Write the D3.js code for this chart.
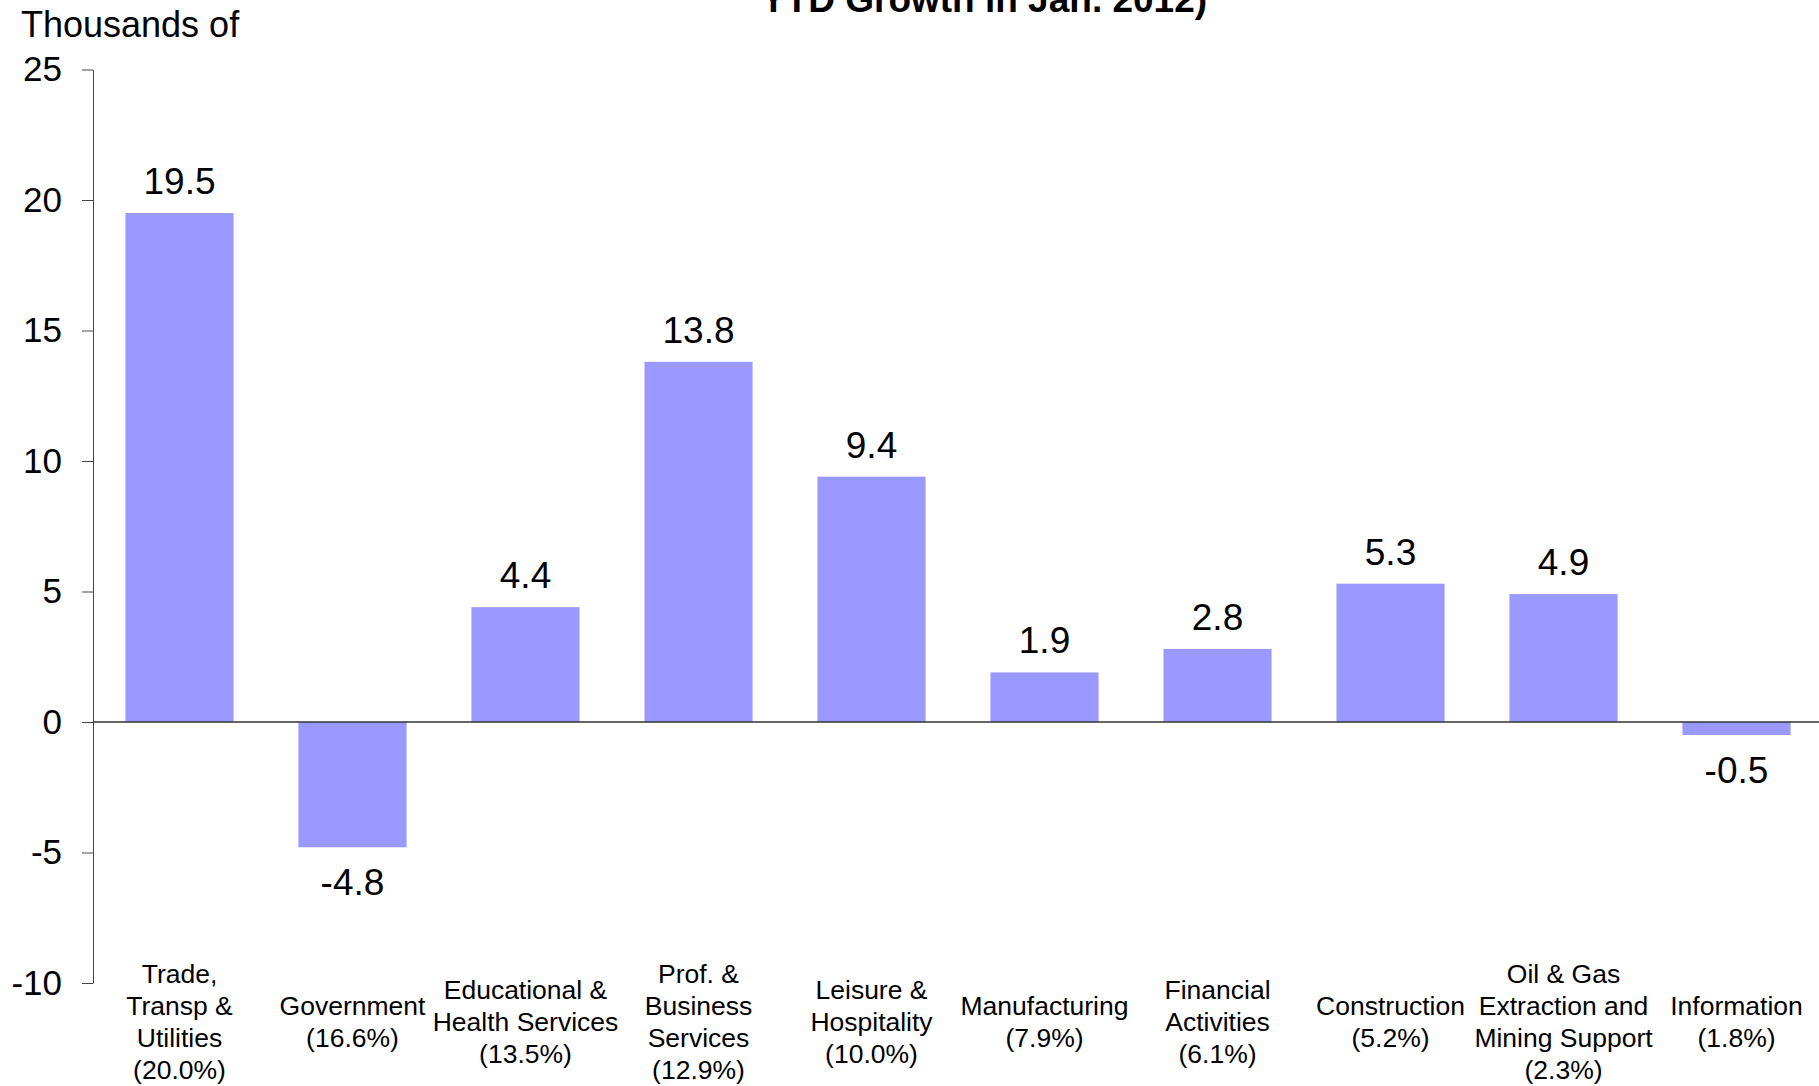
<!DOCTYPE html>
<html>
<head>
<meta charset="utf-8" />
<title>YTD Growth in Jan. 2012</title>
<script src="https://d3js.org/d3.v7.min.js"></script>
<style>
  html, body { margin: 0; padding: 0; background: #fff; }
  svg text { font-family: "Liberation Sans", Arial, sans-serif; fill: #000; }
</style>
</head>
<body>
<svg id="chart" width="1819" height="1086"></svg>
<script>
// data
var categories = [
    ["Trade,", "Transp &", "Utilities", "(20.0%)"],
    ["Government", "(16.6%)"],
    ["Educational &", "Health Services", "(13.5%)"],
    ["Prof. &", "Business", "Services", "(12.9%)"],
    ["Leisure &", "Hospitality", "(10.0%)"],
    ["Manufacturing", "(7.9%)"],
    ["Financial", "Activities", "(6.1%)"],
    ["Construction", "(5.2%)"],
    ["Oil & Gas", "Extraction and", "Mining Support", "(2.3%)"],
    ["Information", "(1.8%)"]
];
var values = [19.5, -4.8, 4.4, 13.8, 9.4, 1.9, 2.8, 5.3, 4.9, -0.5];
var yTicks = [-10, -5, 0, 5, 10, 15, 20, 25];
var titleText = "YTD Growth in Jan. 2012)";
var yTitle = "Thousands of";

var svg = d3.select("#chart");

var x = d3.scaleBand()
    .domain(d3.range(categories.length))
    .range([93, 1823])
    .paddingInner(0.375)
    .paddingOuter(0.1875);

var y = d3.scaleLinear().domain([-10, 25]).range([983, 69.5]);

// title (top line is cut off in the original)
svg.append("text")
    .attr("x", 984).attr("y", 12)
    .attr("text-anchor", "middle")
    .style("font-size", "37px").style("font-weight", "bold")
    .text(titleText);

svg.append("text")
    .attr("x", 21).attr("y", 37)
    .style("font-size", "36px")
    .text(yTitle);

// bars
svg.append("g").selectAll("rect")
    .data(values)
    .join("rect")
    .attr("x", function (d, i) { return x(i); })
    .attr("width", x.bandwidth())
    .attr("y", function (d) { return y(Math.max(0, d)); })
    .attr("height", function (d) { return Math.abs(y(d) - y(0)); })
    .attr("fill", "#9999ff");

// y axis
var yAxis = svg.append("g")
    .attr("transform", "translate(93,0)")
    .call(d3.axisLeft(y).tickValues(yTicks).tickSize(11).tickSizeOuter(0).tickPadding(20)
        .tickFormat(function (d) { return String(d); }));
yAxis.select(".domain").attr("stroke", "#444");
yAxis.selectAll(".tick line").attr("stroke", "#444");
yAxis.selectAll(".tick text")
    .style("font-size", "35px")
    .style("font-family", "'Liberation Sans', Arial, sans-serif")
    .attr("fill", "#000");

// zero line
svg.append("line")
    .attr("x1", 93).attr("x2", 1819)
    .attr("y1", y(0)).attr("y2", y(0))
    .attr("stroke", "#333").attr("stroke-width", 1.5);

// value labels
svg.append("g").selectAll("text")
    .data(values)
    .join("text")
    .attr("x", function (d, i) { return x(i) + x.bandwidth() / 2; })
    .attr("y", function (d) { return d >= 0 ? y(d) - 19 : y(d) + 48; })
    .attr("text-anchor", "middle")
    .style("font-size", "37px")
    .text(function (d) { return d.toFixed(1); });

// category labels, block centred around a common middle
var lineH = 31.7, mid = 1031;
svg.append("g").selectAll("text")
    .data(categories)
    .join("text")
    .attr("text-anchor", "middle")
    .style("font-size", "26.5px")
    .each(function (lines, i) {
        var cx = x(i) + x.bandwidth() / 2;
        var y0 = mid - (lines.length - 1) / 2 * lineH;
        d3.select(this).selectAll("tspan")
            .data(lines)
            .join("tspan")
            .attr("x", cx)
            .attr("y", function (d, j) { return y0 + j * lineH; })
            .text(function (d) { return d; });
    });
</script>
</body>
</html>
